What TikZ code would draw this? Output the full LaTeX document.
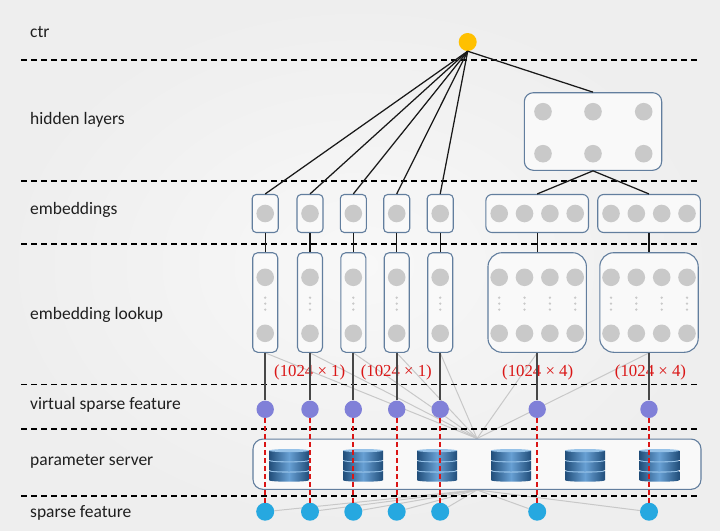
\documentclass[tikz,border=0pt]{standalone}
\usepackage{fontspec}
\setmainfont{Carlito}
\newfontfamily\dimfont{Liberation Serif}
\definecolor{boxc}{RGB}{98,126,158}
\definecolor{boxf}{RGB}{249,249,249}
\definecolor{dotc}{RGB}{201,201,201}
\definecolor{bgin}{RGB}{248,248,248}
\definecolor{bgout}{RGB}{238,238,238}
\definecolor{ctrc}{RGB}{255,192,0}
\definecolor{vsc}{RGB}{128,128,216}
\definecolor{spc}{RGB}{38,168,224}
\definecolor{redc}{RGB}{218,22,22}
\definecolor{dbdark}{RGB}{33,78,122}
\definecolor{dblight}{RGB}{104,160,212}
\definecolor{dbtop}{RGB}{150,194,232}
\definecolor{grayl}{RGB}{200,200,200}
\definecolor{linec}{RGB}{25,25,25}
\pgfdeclarelayer{bgfill}
\pgfdeclarelayer{glines}
\pgfsetlayers{bgfill,glines,main}
\newcommand{\dbicon}[1]{%
  \begin{scope}[shift={(#1,449)}]
    \foreach \k in {2,1,0}{
      \pgfmathsetmacro{\yt}{\k*10.2+1.6}
      \pgfmathsetmacro{\yb}{\yt+9.2}
      \shade[left color=dbdark, right color=dbdark, middle color=dblight]
        (-20,\yt) -- (-20,\yb) .. controls (-20,\yb+2) and (20,\yb+2) .. (20,\yb) -- (20,\yt) -- cycle;
      \fill[dbtop] (0,\yt) ellipse [x radius=20pt, y radius=1.6pt];
    }
  \end{scope}}
\begin{document}
\begin{tikzpicture}[x=1pt,y=-1pt,
  sepline/.style={dash pattern=on 6pt off 4pt, line width=1.3pt, black},
  lbl/.style={anchor=base west, font=\fontsize{17.5}{20}\selectfont, inner sep=0pt, text=black!88},
  bx/.style={draw=boxc, fill=boxf, line width=1.1pt, inner sep=0pt},
  gdot/.style={circle, fill=dotc, minimum size=17.6pt, inner sep=0pt},
  sdot/.style={circle, fill=dotc, minimum size=2.6pt, inner sep=0pt},
  conn/.style={draw=linec, line width=1.25pt},
  vconn/.style={draw=black!72, line width=1.7pt},
  gconn/.style={draw=grayl, line width=1pt},
  rconn/.style={draw=redc, line width=1.7pt, dash pattern=on 5pt off 3pt},
  dimlbl/.style={text=redc, font=\dimfont\fontsize{16.8}{19}\selectfont, inner sep=0pt}
]
\useasboundingbox (0,0) rectangle (720,530);
\begin{pgfonlayer}{bgfill}
\shade[inner color=bgin, outer color=bgout] (0,0) rectangle (720,530);
\end{pgfonlayer}

% separators
\foreach \y in {60,181,244,384.5,429,496}
  \draw[sepline] (21,\y) -- (700,\y);

% labels
\node[lbl] (tctr) at (30,37.3) {ctr};
\node[lbl] (thid) at (30,124.3) {hidden layers};
\node[lbl] (temb) at (30,214.3) {embeddings};
\node[lbl] (tlook) at (30,319.3) {embedding lookup};
\node[lbl] (tvsf) at (30,409.3) {virtual sparse feature};
\node[lbl] (tps) at (30,465.7) {parameter server};
\node[lbl] (tsf) at (30,517.7) {sparse feature};

% ctr
\node[circle, fill=ctrc, minimum size=18pt, inner sep=0pt] (ctr) at (467.7,42) {};

% hidden layers box
\node[bx, rounded corners=9pt, minimum width=137.4pt, minimum height=77.6pt] (hid) at (593,131.5) {};
\foreach \i/\x/\y in {1/543/111.7,2/593/111.7,3/643.7/111.7,4/543/153.7,5/593/153.7,6/643.7/153.7}
  \node[gdot] (h\i) at (\x,\y) {};

% small embeddings and lookups
\foreach \i/\x in {1/265.2,2/310,3/353.3,4/396.7,5/440.2}{
  \node[bx, rounded corners=4pt, minimum width=26pt, minimum height=38pt] (e\i) at (\x,213.5) {};
  \node[gdot] (ec\i) at (\x,213.5) {};
  \node[bx, rounded corners=5pt, minimum width=25pt, minimum height=99.6pt] (l\i) at (\x,302.5) {};
  \node[gdot] (la\i) at (\x,277.3) {};
  \node[gdot] (lb\i) at (\x,333.3) {};
  \foreach \d/\yy in {a/297.7,b/303.6,c/309.6}
    \node[sdot] (ld\i\d) at (\x,\yy) {};
}

% big embeddings and lookups
\foreach \i/\x in {1/537.2,2/649}{
  \node[bx, rounded corners=6pt, minimum width=102.6pt, minimum height=38pt] (E\i) at (\x,213.5) {};
  \node[bx, rounded corners=14pt, minimum width=98.4pt, minimum height=99.6pt] (L\i) at (\x,302.5) {};
  \foreach \j/\o in {1/-38,2/-12.7,3/12.7,4/38}{
    \node[gdot] (Ec\i\j) at (\x+\o,213.5) {};
    \node[gdot] (La\i\j) at (\x+\o,277.3) {};
    \node[gdot] (Lb\i\j) at (\x+\o,333.3) {};
    \foreach \d/\yy in {a/297.7,b/303.6,c/309.6}
      \node[sdot] (Ld\i\j\d) at (\x+\o,\yy) {};
  }
}

% parameter server box
\node[bx, rounded corners=10pt, minimum width=448pt, minimum height=50.3pt] (ps) at (477,464.2) {};
\foreach \x in {289,363,437,511,585,659.3}{\dbicon{\x}}

% virtual sparse and sparse features
\foreach \i/\x in {1/265.2,2/310,3/353.3,4/396.7,5/440.2,6/537.2,7/649}{
  \node[circle, fill=vsc, minimum size=17.4pt, inner sep=0pt] (v\i) at (\x,409.3) {};
  \node[circle, fill=spc, minimum size=18pt, inner sep=0pt] (s\i) at (\x,511.7) {};
}

% red dimension labels
\node[dimlbl] (d1) at (309.7,372.3) {(1024 × 1)};
\node[dimlbl] (d2) at (396.3,372.3) {(1024 × 1)};
\node[dimlbl] (d3) at (537.7,372.3) {(1024 × 4)};
\node[dimlbl] (d4) at (650.5,372.3) {(1024 × 4)};

% gray lines (behind)
\begin{pgfonlayer}{glines}
  \foreach \i in {1,...,5}
    \draw[gconn] (l\i.south) -- (ps.north);
  \draw[gconn] (L1.south) -- (ps.north);
  \draw[gconn] (L2.south) -- (ps.north);
  \foreach \i in {1,...,7}
    \draw[gconn] (ps.south) -- (s\i);
\end{pgfonlayer}

% black connectors
\foreach \i in {1,...,5}
  \draw[conn] (ctr.south) -- (e\i.north);
\draw[conn] (ctr.south) -- (hid.north);
\draw[conn] (hid.south) -- (E1.north);
\draw[conn] (hid.south) -- (E2.north);
\foreach \i in {1,...,5}{
  \draw[conn] (e\i.south) -- (l\i.north);
  \draw[vconn] (l\i.south) -- (v\i.north);
}
\draw[conn] (E1.south) -- (L1.north);
\draw[conn] (E2.south) -- (L2.north);
\draw[vconn] (L1.south) -- (v6.north);
\draw[vconn] (L2.south) -- (v7.north);

% red dashed
\foreach \i in {1,...,7}
  \draw[rconn] (v\i.south) -- (s\i.north);
\end{tikzpicture}
\end{document}
